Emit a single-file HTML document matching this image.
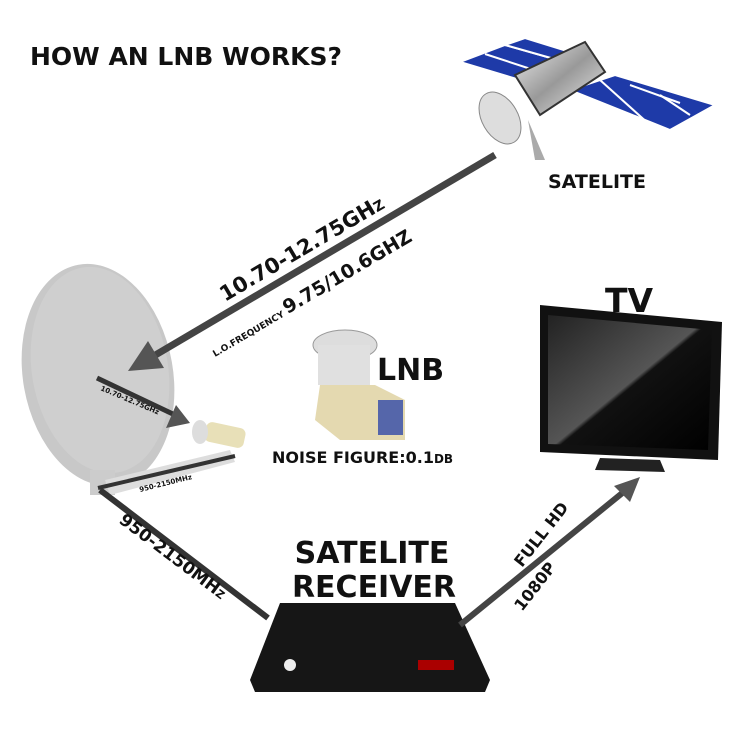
<!DOCTYPE html>
<html><head><style>body{margin:0;background:#fff}svg{display:block}text{font-family:"DejaVu Sans","Liberation Sans",sans-serif;font-weight:bold;fill:#111}</style></head>
<body>
<svg width="736" height="736" viewBox="0 0 736 736">
<defs>
<linearGradient id="cyl" x1="0" y1="0" x2="1" y2="1"><stop offset="0" stop-color="#eee"/><stop offset=".5" stop-color="#999"/><stop offset="1" stop-color="#eee"/></linearGradient>
<linearGradient id="tv" x1="0" y1="0" x2="1" y2="1"><stop offset="0" stop-color="#222"/><stop offset=".5" stop-color="#555"/><stop offset=".52" stop-color="#111"/><stop offset="1" stop-color="#000"/></linearGradient>
</defs>
<text x="30" y="65" font-size="25">HOW AN LNB WORKS?</text>
<g fill="#1e3aa8" stroke="#fff" stroke-width="2">
<polygon points="460,62 505,45 565,62 520,80"/>
<polygon points="505,45 525,38 580,55 565,62"/>
<polygon points="570,90 615,75 715,105 670,130"/>
</g>
<g stroke="#fff" stroke-width="2"><line x1="485" y1="54" x2="540" y2="72"/><line x1="600" y1="80" x2="650" y2="125"/><line x1="630" y1="85" x2="680" y2="103"/><line x1="660" y1="95" x2="690" y2="115"/></g>
<polygon points="515,75 585,42 605,72 540,115" fill="url(#cyl)" stroke="#333" stroke-width="2"/>
<ellipse cx="500" cy="118" rx="18" ry="28" fill="#ddd" stroke="#888" transform="rotate(-30 500 118)"/>
<path d="M528,120 L535,160 L545,160 Z" fill="#aaa"/>
<text x="548" y="188" font-size="19">SATELITE</text>
<ellipse cx="98" cy="375" rx="75" ry="112" fill="#c8c8c8" transform="rotate(-10 98 375)"/>
<ellipse cx="100" cy="370" rx="68" ry="104" fill="#cfcfcf" transform="rotate(-10 100 370)"/>
<rect x="90" y="470" width="25" height="25" fill="#ccc"/>
<polygon points="105,480 230,450 235,462 110,495" fill="#ddd"/>
<line x1="495" y1="155" x2="152" y2="357" stroke="#444" stroke-width="7"/>
<polygon points="128,371 148,341 164,368" fill="#555"/>
<text font-size="21" transform="translate(225,302) rotate(-30.5)">10.70-12.75GH<tspan font-size="14">Z</tspan></text>
<text font-size="9" transform="translate(215,357) rotate(-30.5)">L.O.FREQUENCY <tspan font-size="19">9.75/10.6GHZ</tspan></text>
<line x1="98" y1="488" x2="235" y2="456" stroke="#333" stroke-width="4"/>
<text font-size="7" transform="translate(140,492) rotate(-14)">950-2150MHz</text>
<rect x="205" y="425" width="40" height="20" rx="6" fill="#e8e0b8" transform="rotate(12 225 435)"/>
<ellipse cx="200" cy="432" rx="8" ry="12" fill="#ddd"/>
<line x1="97" y1="378" x2="175" y2="415" stroke="#333" stroke-width="5"/>
<polygon points="190,423 166,428 176,405" fill="#555"/>
<text font-size="7" transform="translate(100,390) rotate(23)">10.70-12.75GHz</text>
<line x1="100" y1="490" x2="268" y2="618" stroke="#333" stroke-width="6"/>
<text font-size="17" transform="translate(118,522) rotate(37)">950-2150MH<tspan font-size="11">Z</tspan></text>
<ellipse cx="345" cy="345" rx="32" ry="15" fill="#ddd" stroke="#999"/>
<rect x="318" y="345" width="52" height="40" fill="#e0e0e0"/>
<polygon points="320,385 375,385 405,400 405,440 340,440 315,420" fill="#e4d9b0"/>
<rect x="378" y="400" width="25" height="35" fill="#5566aa"/>
<text x="377" y="380" font-size="30">LNB</text>
<text x="272" y="463" font-size="16">NOISE FIGURE:0.1<tspan font-size="12">DB</tspan></text>
<text x="605" y="312" font-size="33">TV</text>
<polygon points="540,305 722,322 718,460 540,452" fill="#111"/>
<polygon points="548,315 712,330 708,450 548,444" fill="url(#tv)"/>
<polygon points="600,458 660,460 665,472 595,470" fill="#222"/>
<text x="372" y="563" font-size="30" text-anchor="middle">SATELITE</text>
<text x="374" y="597" font-size="30" text-anchor="middle">RECEIVER</text>
<polygon points="280,603 455,603 490,680 485,692 255,692 250,680" fill="#161616"/>
<circle cx="290" cy="665" r="6" fill="#eee"/>
<rect x="418" y="660" width="36" height="10" fill="#a00"/>
<line x1="460" y1="625" x2="626" y2="490" stroke="#444" stroke-width="6"/>
<polygon points="640,477 614,486 630,502" fill="#555"/>
<text font-size="16" transform="translate(522,568) rotate(-52)">FULL HD</text>
<text font-size="16" transform="translate(522,612) rotate(-52)">1080P</text>
</svg>
</body></html>
